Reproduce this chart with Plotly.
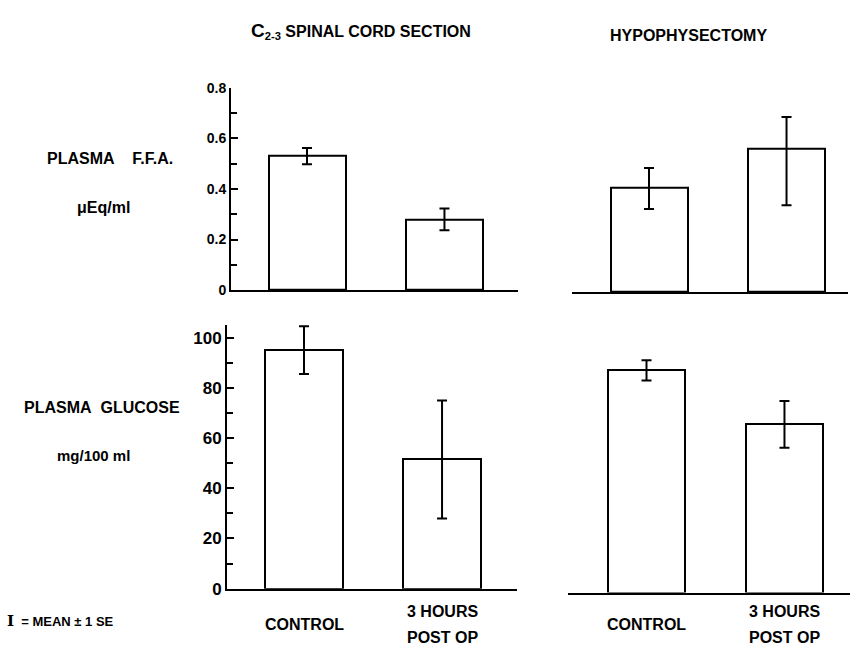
import plotly.graph_objects as go

# ---- data -----------------------------------------------------------------
groups = ["CONTROL", "3 HOURS\nPOST OP"]

ffa_cord = [0.53, 0.28]            # plasma FFA, uEq/ml, C2-3 cord section
ffa_cord_se = [0.032, 0.043]
ffa_hypo = [0.415, 0.57]           # plasma FFA, hypophysectomy
ffa_hypo_se_up = [0.078, 0.125]
ffa_hypo_se_down = [0.085, 0.225]

glu_cord = [95, 51.5]              # plasma glucose, mg/100 ml, C2-3 cord section
glu_cord_se = [9.5, 23.5]
glu_hypo = [88.5, 67]              # plasma glucose, hypophysectomy
glu_hypo_se = [4, 9.3]

ffa_ticks = [0, 0.2, 0.4, 0.6, 0.8]
ffa_ticktext = ["0", "0.2", "0.4", "0.6", "0.8"]
glu_ticks = [0, 20, 40, 60, 80, 100]
glu_ticktext = ["0", "20", "40", "60", "80", "100"]

W, H = 853, 659
FONT = "Liberation Sans"
cats = [g.replace("\n", " ") for g in groups]


def px_x(p):
    return p / W


def px_y(p):
    return 1 - p / H


def bar(y, up, down, xa, ya):
    return go.Bar(
        x=cats, y=y, xaxis=xa, yaxis=ya, width=0.56,
        marker=dict(color="white", line=dict(color="black", width=2)),
        error_y=dict(type="data", array=up, arrayminus=down, symmetric=False,
                     color="black", thickness=2, width=5),
        showlegend=False, hoverinfo="skip",
    )


fig = go.Figure()
fig.add_trace(bar(ffa_cord, ffa_cord_se, ffa_cord_se, "x", "y"))
fig.add_trace(bar(ffa_hypo, ffa_hypo_se_up, ffa_hypo_se_down, "x2", "y2"))
fig.add_trace(bar(glu_cord, glu_cord_se, glu_cord_se, "x3", "y3"))
fig.add_trace(bar(glu_hypo, glu_hypo_se, glu_hypo_se, "x4", "y4"))

xbase = dict(type="category", showline=True, linewidth=2, linecolor="black",
             showticklabels=False, ticks="", showgrid=False, zeroline=False,
             fixedrange=True)
ybase = dict(showgrid=False, zeroline=False, fixedrange=True)


def yvis(size):
    return dict(showline=True, linewidth=2, linecolor="black", ticks="inside",
                ticklen=7, tickwidth=2, tickcolor="black",
                tickfont=dict(family=FONT, size=size, color="black", weight="bold"))


fig.update_layout(
    width=W, height=H, margin=dict(l=0, r=0, t=0, b=0),
    paper_bgcolor="white", plot_bgcolor="white", bargap=0,
    xaxis=dict(xbase, domain=[px_x(231), px_x(518)], range=[-0.553, 1.535], anchor="y"),
    yaxis=dict(ybase, **yvis(14), domain=[px_y(290), px_y(82)], range=[0, 0.8],
               anchor="x", tickvals=ffa_ticks, ticktext=ffa_ticktext,
               minor=dict(dtick=0.1, ticks="inside", ticklen=6, tickwidth=2,
                          tickcolor="black")),
    xaxis2=dict(xbase, domain=[px_x(572), px_x(848)], range=[-0.56, 1.447], anchor="y2"),
    yaxis2=dict(ybase, visible=False, domain=[px_y(292), px_y(85)], range=[0, 0.8],
                anchor="x2"),
    xaxis3=dict(xbase, domain=[px_x(227), px_x(517)], range=[-0.558, 1.543], anchor="y3"),
    yaxis3=dict(ybase, **yvis(17), domain=[px_y(597), px_y(326)], range=[0, 105],
                anchor="x3", tickvals=glu_ticks, ticktext=glu_ticktext,
                minor=dict(dtick=10, ticks="inside", ticklen=6, tickwidth=2,
                           tickcolor="black")),
    xaxis4=dict(xbase, domain=[px_x(568), px_x(850)], range=[-0.569, 1.475], anchor="y4"),
    yaxis4=dict(ybase, visible=False, domain=[px_y(601), px_y(330)], range=[0, 105],
                anchor="x4"),
)

ann = []


def text(x, y, s, size=16, xanchor="center"):
    ann.append(dict(x=px_x(x), y=px_y(y), xref="paper", yref="paper", text=s,
                    showarrow=False, xanchor=xanchor, yanchor="middle",
                    font=dict(family=FONT, size=size, color="black", weight="bold")))


# column headings
text(361, 24, "<span style='font-size:19px'>C</span><sub>2-3</sub>"
              "\u00a0SPINAL CORD SECTION", size=16)
text(688, 28, "HYPOPHYSECTOMY", size=16)

# row headings
text(45, 155, "PLASMA\u00a0\u00a0\u00a0\u00a0F.F.A.", size=16, xanchor="left")
text(75, 205, "\u03bcEq/ml", size=16, xanchor="left")
text(22, 411, "PLASMA\u00a0\u00a0GLUCOSE", size=16, xanchor="left")
text(55, 460, "mg/100 ml", size=15, xanchor="left")

# key
ann.append(dict(x=px_x(5), y=px_y(630), xref="paper", yref="paper",
                text="<span style='font-family:DejaVu Serif;font-size:15px'>I</span>"
                     "\u00a0\u00a0=\u00a0MEAN\u00a0\u00b1\u00a01\u00a0SE",
                showarrow=False, xanchor="left", yanchor="middle",
                font=dict(family=FONT, size=13, color="black", weight="bold")))

# group labels under the lower panels
for xa in ("x3", "x4"):
    for i, g in enumerate(groups):
        lines = g.split("\n")
        n = len(lines)
        for k, line in enumerate(lines):
            ypix = 634 + (k - (n - 1) / 2) * 27
            ann.append(dict(x=cats[i], y=px_y(ypix), xref=xa, yref="paper", text=line,
                            showarrow=False, xanchor="center", yanchor="middle",
                            font=dict(family=FONT, size=16, color="black",
                                      weight="bold")))

fig.update_layout(annotations=ann)
fig.write_html("out.html")
